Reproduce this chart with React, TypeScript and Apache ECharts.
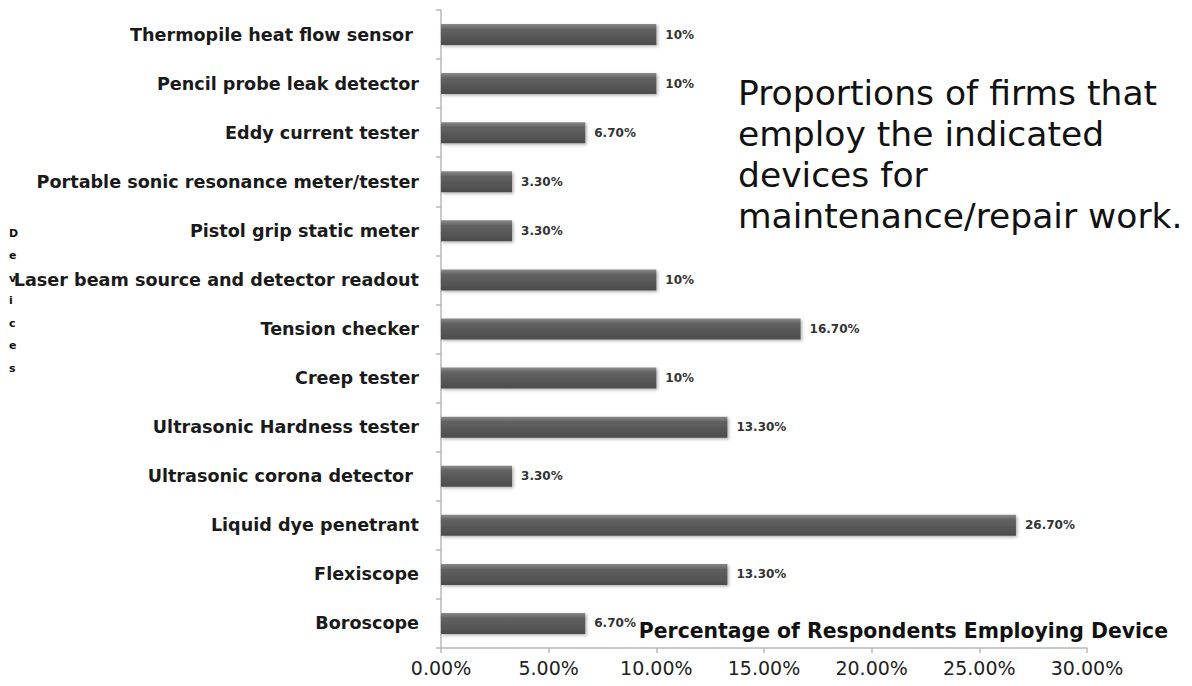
import React, { useEffect, useRef } from "react";
import * as echarts from "echarts";

const categories = [
  "Thermopile heat flow sensor ",
  "Pencil probe leak detector",
  "Eddy current tester",
  "Portable sonic resonance meter/tester",
  "Pistol grip static meter",
  "Laser beam source and detector readout",
  "Tension checker",
  "Creep tester",
  "Ultrasonic Hardness tester",
  "Ultrasonic corona detector ",
  "Liquid dye penetrant",
  "Flexiscope",
  "Boroscope",
];
const values = [10, 10, 6.7, 3.3, 3.3, 10, 16.7, 10, 13.3, 3.3, 26.7, 13.3, 6.7];
const xTicks = [0, 5, 10, 15, 20, 25, 30];

const App = () => {
  const ref = useRef<HTMLDivElement>(null);
  useEffect(() => {
    const chart = echarts.init(ref.current!, null, { renderer: "svg" });
    const cats = [...categories].reverse();
    const vals = [...values].reverse();
    chart.setOption({
      animation: false,
      backgroundColor: "#ffffff",
      grid: { left: 441, right: 105, top: 10, bottom: 38, containLabel: false },
      xAxis: {
        type: "value",
        min: xTicks[0],
        max: xTicks[xTicks.length - 1],
        interval: 5,
        splitLine: { show: false },
        axisLine: { show: true, lineStyle: { color: "#b8b8b8", width: 1.5 } },
        axisTick: { show: true, length: 5, lineStyle: { color: "#b8b8b8", width: 1.5 } },
        axisLabel: {
          formatter: (v: number) => v.toFixed(2) + "%",
          fontFamily: "DejaVu Sans",
          fontSize: 19,
          color: "#222",
          margin: 10,
        },
      },
      yAxis: {
        type: "category",
        data: cats,
        axisLine: { show: true, lineStyle: { color: "#b8b8b8", width: 1.5 } },
        axisTick: { show: true, length: 5, lineStyle: { color: "#b8b8b8", width: 1.5 } },
        axisLabel: {
          fontFamily: "DejaVu Sans",
          fontWeight: "bold",
          fontSize: 17.6,
          color: "#1a1a1a",
          margin: 22,
        },
      },
      series: [
        {
          type: "bar",
          data: vals,
          barWidth: 21,
          itemStyle: {
            color: new echarts.graphic.LinearGradient(0, 0, 0, 1, [
              { offset: 0, color: "#8a8a8a" },
              { offset: 0.25, color: "#616161" },
              { offset: 1, color: "#4c4c4c" },
            ]),
            shadowBlur: 3,
            shadowColor: "rgba(0,0,0,0.3)",
            shadowOffsetX: 1.5,
            shadowOffsetY: 1.5,
          },
          label: {
            show: true,
            position: "right",
            distance: 9,
            formatter: (p: any) =>
              Number.isInteger(p.value) ? p.value + "%" : p.value.toFixed(2) + "%",
            fontFamily: "DejaVu Sans",
            fontSize: 12,
            fontWeight: "bold",
            color: "#333",
          },
        },
      ],
      graphic: [
        {
          type: "text",
          left: 9,
          top: 222,
          style: {
            text: "D\ne\nv\ni\nc\ne\ns",
            fontFamily: "DejaVu Sans",
            fontWeight: "bold",
            fontSize: 11,
            lineHeight: 22.5,
            fill: "#111",
          },
        },
        {
          type: "text",
          left: 738,
          top: 72,
          style: {
            text: "Proportions of firms that\nemploy the indicated\ndevices for\nmaintenance/repair work.",
            fontFamily: "DejaVu Sans",
            fontSize: 34.5,
            lineHeight: 41,
            fill: "#111",
          },
        },
        {
          type: "text",
          right: 24,
          top: 621,
          style: {
            text: "Percentage of Respondents Employing Device",
            fontFamily: "DejaVu Sans",
            fontWeight: "bold",
            fontSize: 20.4,
            fill: "#111",
          },
        },
      ],
    });
    return () => chart.dispose();
  }, []);
  return <div ref={ref} style={{ width: 1192, height: 686, position: "absolute", left: 0, top: 0 }} />;
};

export default App;
